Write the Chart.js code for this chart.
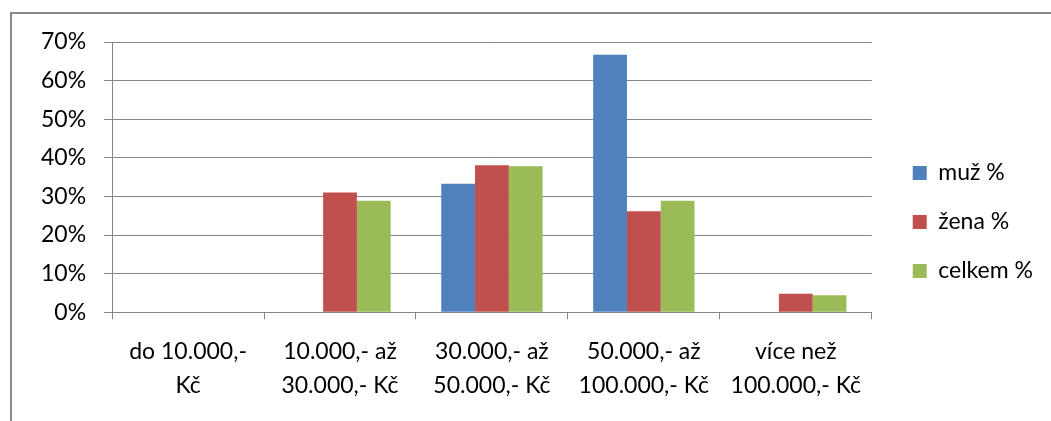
<!DOCTYPE html>
<html>
<head>
<meta charset="utf-8">
<script src="https://cdn.jsdelivr.net/npm/chart.js@4"></script>
<style>
  html, body { margin: 0; padding: 0; background: #fff; overflow: hidden; }
  #wrap { position: relative; width: 1051px; height: 421px; }
  #frame { position: absolute; left: 10px; top: 12px; width: 1100px; height: 500px;
           border-left: 2px solid #8a8a8a; border-top: 2px solid #8a8a8a; pointer-events: none; }
  canvas { position: absolute; left: 0; top: 0; }
</style>
</head>
<body>
<div id="wrap">
  <canvas id="c" width="1051" height="421"></canvas>
  <div id="frame"></div>
</div>
<script>
// income bands, share of respondents (%)
const categories = [
  ['do 10.000,-', 'Kč'],
  ['10.000,- až', '30.000,- Kč'],
  ['30.000,- až', '50.000,- Kč'],
  ['50.000,- až', '100.000,- Kč'],
  ['více než', '100.000,- Kč'],
];
const muz    = [0, 0, 33.3, 66.7, 0];
const zena   = [0, 31.0, 38.1, 26.2, 4.8];
const celkem = [0, 28.9, 37.8, 28.9, 4.4];
const seriesNames = ['muž %', 'žena %', 'celkem %'];
const yTicks = [0, 10, 20, 30, 40, 50, 60, 70];

const COLORS = ['#4F81BD', '#C0504D', '#9BBB59'];
const FONT = { family: 'Lato', size: 23, lineHeight: 1.45 };
const GRID = '#868686';

// nudge the legend away from the plot, like Excel leaves a gap there
const legendShift = {
  id: 'legendShift',
  afterLayout(chart) {
    const lg = chart.legend;
    lg.left += 15; lg.right += 15;
    lg.top -= 8; lg.bottom -= 8;
  },
};

new Chart(document.getElementById('c').getContext('2d'), {
  type: 'bar',
  data: {
    labels: categories,
    datasets: [muz, zena, celkem].map((d, i) => ({
      label: seriesNames[i],
      data: d,
      backgroundColor: COLORS[i],
      borderWidth: 0,
      categoryPercentage: 0.667,
      barPercentage: 1.0,
    })),
  },
  options: {
    responsive: false,
    animation: false,
    layout: { padding: { left: 23, right: 23, top: 42, bottom: 3 } },
    scales: {
      x: {
        grid: { drawOnChartArea: false, drawTicks: true, tickLength: 7, color: GRID, offset: true },
        border: { color: GRID, width: 1 },
        ticks: { font: FONT, color: '#000', padding: 16, maxRotation: 0, autoSkip: false },
      },
      y: {
        min: 0, max: 70,
        afterBuildTicks: axis => { axis.ticks = yTicks.map(v => ({ value: v })); },
        grid: { color: GRID, tickLength: 8, lineWidth: 1 },
        border: { color: GRID, width: 1 },
        ticks: { font: FONT, color: '#000', padding: 18, callback: v => v + '%' },
      },
    },
    plugins: {
      legend: {
        position: 'right',
        labels: { font: FONT, color: '#000', boxWidth: 14, boxHeight: 14, padding: 26 },
      },
      tooltip: { enabled: false },
    },
  },
  plugins: [legendShift],
});
</script>
</body>
</html>
